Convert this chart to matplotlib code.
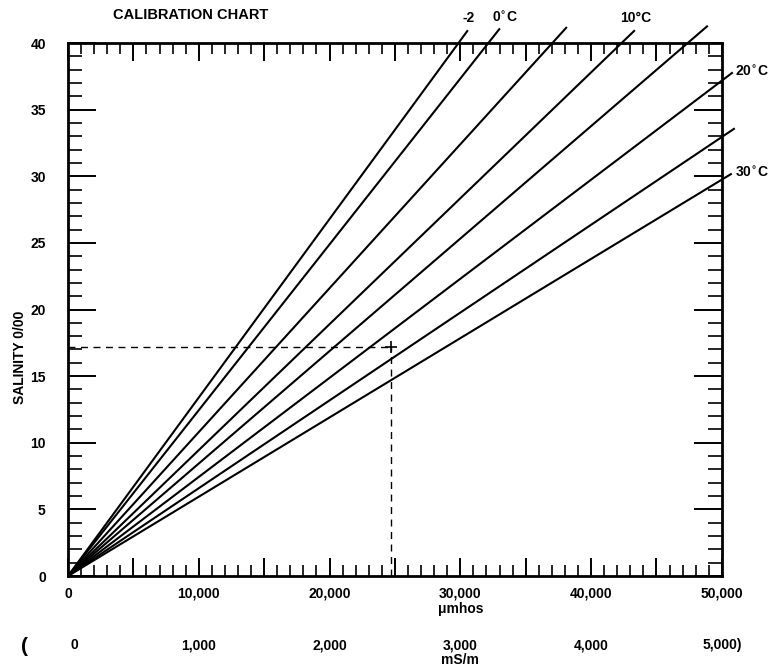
import numpy as np
import matplotlib
matplotlib.use("Agg")
import matplotlib.pyplot as plt
from matplotlib.ticker import MultipleLocator
import matplotlib.transforms as mtransforms

# temperature lines: straight from origin to an end point just outside the frame
temps = [-2, 0, 5, 10, 15, 20, 25, 30]
end_umhos = [30580, 33030, 38150, 43350, 48930, 50840, 50990, 50760]
end_sal = [40.96, 41.1, 41.2, 40.96, 41.3, 37.8, 33.6, 30.2]

# worked example (dashed read-off)
ex_umhos = 24700
ex_sal = 17.2

xticks = [0, 10000, 20000, 30000, 40000, 50000]
xlabels = ["0", "10,000", "20,000", "30,000", "40,000", "50,000"]
ms_labels = ["0", "1,000", "2,000", "3,000", "4,000", "5,000)"]
yticks = [0, 5, 10, 15, 20, 25, 30, 35, 40]

plt.rcParams["font.family"] = ["Liberation Sans", "DejaVu Sans"]
plt.rcParams["font.weight"] = "bold"
FS = 10

fig = plt.figure(figsize=(7.77, 6.68), dpi=100)
ax = fig.add_axes([0.0875, 0.1377, 0.8415, 0.7979])
ax.set_xlim(0, 50000)
ax.set_ylim(0, 40)

for t, xe, ye in zip(temps, end_umhos, end_sal):
    ax.plot([0, xe], [0, ye], color="black", lw=1.5, clip_on=False, solid_capstyle="butt")

ax.plot([0, ex_umhos], [ex_sal, ex_sal], ls=(0, (5, 4)), color="black", lw=1.0)
ax.plot([ex_umhos, ex_umhos], [0, ex_sal], ls=(0, (5, 4)), color="black", lw=1.0)
ax.plot([ex_umhos], [ex_sal], marker="+", ms=9, mew=1.2, color="black")

for s in ax.spines.values():
    s.set_linewidth(2.0)

ax.xaxis.set_major_locator(MultipleLocator(5000))
ax.xaxis.set_minor_locator(MultipleLocator(1000))
ax.yaxis.set_major_locator(MultipleLocator(5))
ax.yaxis.set_minor_locator(MultipleLocator(1))
ax.tick_params(axis="x", which="major", direction="in", length=13, width=1.4,
               top=True, bottom=True, labelbottom=False)
ax.tick_params(axis="x", which="minor", direction="in", length=8, width=1.2,
               top=True, bottom=True)
ax.tick_params(axis="y", which="major", direction="in", length=20, width=1.4,
               left=True, right=True, labelleft=True, labelsize=FS, pad=16)
ax.tick_params(axis="y", which="minor", direction="in", length=10, width=1.2,
               left=True, right=True)
ax.set_yticks(yticks)
ax.set_yticklabels([str(v) for v in yticks], fontweight="bold")

trans = mtransforms.blended_transform_factory(ax.transData, ax.transAxes)
for xv, lab in zip(xticks, xlabels):
    ax.text(xv, -0.033, lab, transform=trans, ha="center", va="center",
            fontsize=FS, fontweight="bold")
ax.text(30000, -0.061, "\u03bcmhos", transform=trans, ha="center", va="center",
        fontsize=FS, fontweight="bold")
for xv, lab in zip(xticks, ms_labels):
    ax.text(xv + (500 if xv == 0 else 0), -0.13, lab, transform=trans, ha="center", va="center",
            fontsize=FS, fontweight="bold")
ax.text(-3300, -0.133, "(", transform=trans, ha="center", va="center", fontsize=15)
ax.text(30000, -0.157, "mS/m", transform=trans, ha="center", va="center",
        fontsize=FS, fontweight="bold")

ax.set_ylabel("SALINITY 0/00", fontsize=FS, fontweight="bold")
ax.yaxis.set_label_coords(-0.063, 0.41)

fig.text(0.245, 0.977, "CALIBRATION CHART", ha="center", va="center",
         fontsize=10.5, fontweight="bold")
fig.text(0.603, 0.973, "-2", ha="center", va="center", fontsize=FS, fontweight="bold")
fig.text(0.65, 0.973, "0$^{\\circ}$C", ha="center", va="center", fontsize=FS, fontweight="bold")
fig.text(0.818, 0.973, "10\u00b0C", ha="center", va="center", fontsize=FS, fontweight="bold")
fig.text(0.968, 0.892, "20$^{\\circ}$C", ha="center", va="center", fontsize=FS, fontweight="bold")
fig.text(0.968, 0.741, "30$^{\\circ}$C", ha="center", va="center", fontsize=FS, fontweight="bold")

fig.savefig("out.png", dpi=100)
